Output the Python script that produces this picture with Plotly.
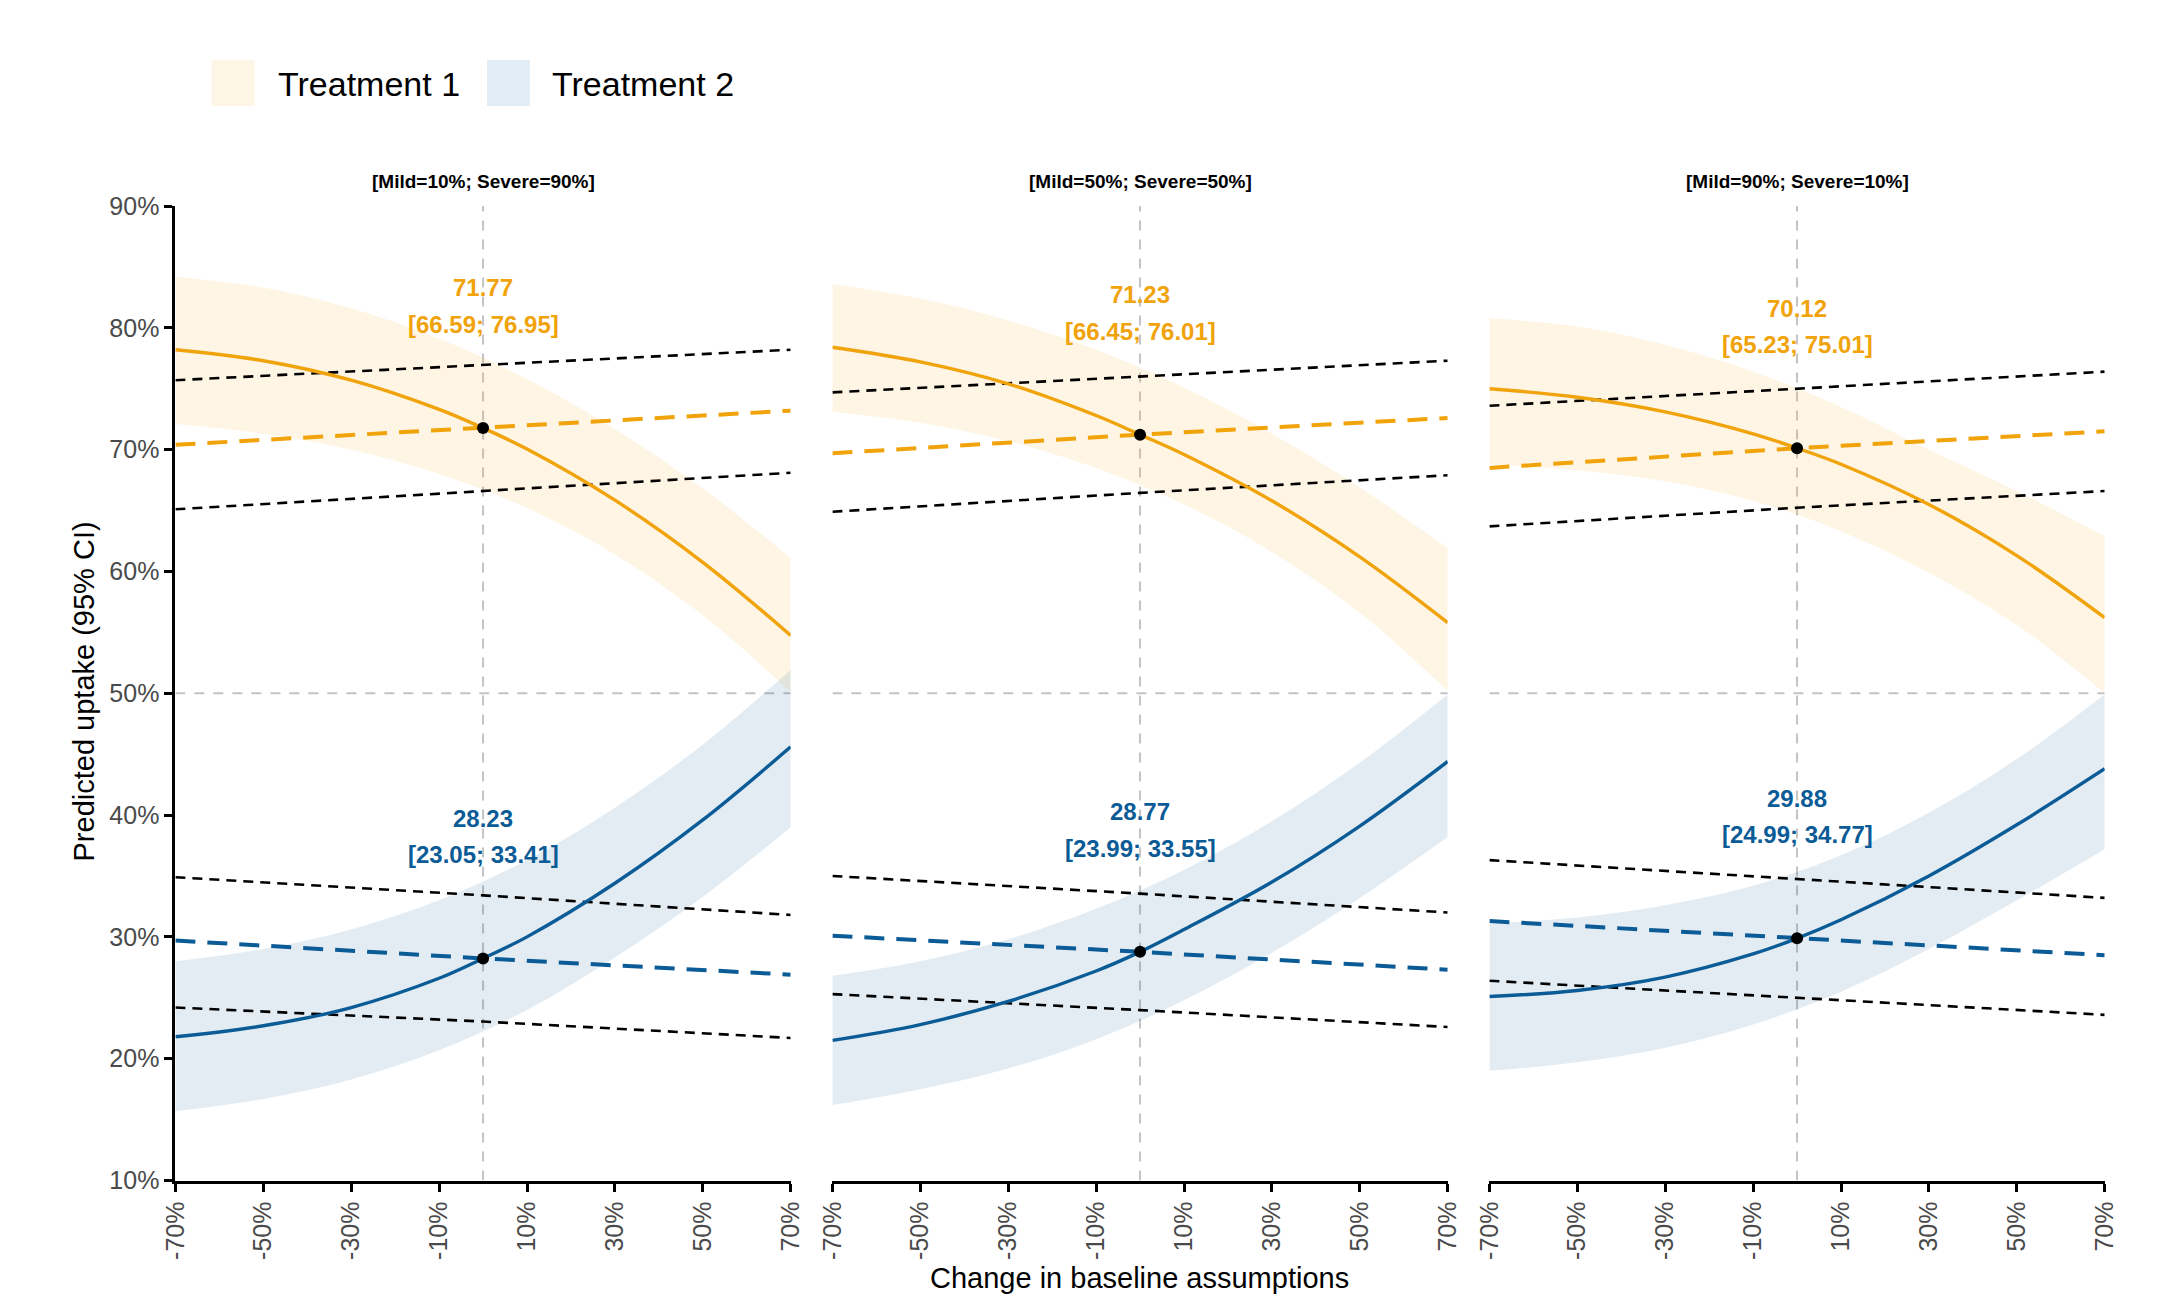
import plotly.graph_objects as go

# ---------------- data ----------------
curve_x = [-70, -50, -30, -10, 0, 10, 30, 50, 70]     # x for the estimate curves
band_x = [-70, -50, -30, -10, 10, 30, 50, 70]         # x for the CI bands
base_x = [-70, 0, 70]                                 # x for the baseline lines
panel_titles = ["[Mild=10%; Severe=90%]", "[Mild=50%; Severe=50%]", "[Mild=90%; Severe=10%]"]
series_names = ["Treatment 1", "Treatment 2"]
x_tickvals = [-70, -50, -30, -10, 10, 30, 50, 70]
x_ticktext = ["-70%", "-50%", "-30%", "-10%", "10%", "30%", "50%", "70%"]
y_tickvals = [10, 20, 30, 40, 50, 60, 70, 80, 90]
y_ticktext = ["10%", "20%", "30%", "40%", "50%", "60%", "70%", "80%", "90%"]

# Panel 1 [Mild=10%; Severe=90%]
p1_t1_est = [78.2, 77.3, 75.7, 73.3, 71.77, 70.05, 65.85, 60.75, 54.75]
p1_t1_hi = [84.2, 83.3, 81.6, 79.1, 75.8, 71.7, 66.8, 61.1]
p1_t1_lo = [72.1, 71.3, 70.0, 68.0, 65.2, 61.4, 56.4, 50.1]
p1_t1_base = [70.4, 71.77, 73.2]
p1_t1_base_lo = [65.1, 66.59, 68.1]
p1_t1_base_hi = [75.7, 76.95, 78.2]
p1_t2_est = [21.8, 22.7, 24.2, 26.6, 28.23, 30.0, 34.4, 39.6, 45.6]
p1_t2_hi = [28.0, 29.0, 30.6, 33.0, 36.3, 40.6, 45.8, 51.9]
p1_t2_lo = [15.7, 16.7, 18.3, 20.7, 24.0, 28.3, 33.3, 39.0]
p1_t2_base = [29.7, 28.23, 26.9]
p1_t2_base_lo = [24.2, 23.05, 21.7]
p1_t2_base_hi = [34.9, 33.41, 31.8]

# Panel 2 [Mild=50%; Severe=50%]
p2_t1_est = [78.4, 77.2, 75.4, 72.8, 71.23, 69.6, 65.8, 61.2, 55.8]
p2_t1_hi = [83.6, 82.4, 80.6, 78.2, 75.1, 71.3, 66.9, 61.9]
p2_t1_lo = [73.1, 72.2, 70.7, 68.5, 65.5, 61.6, 56.6, 50.2]
p2_t1_base = [69.7, 71.23, 72.6]
p2_t1_base_lo = [64.9, 66.45, 67.9]
p2_t1_base_hi = [74.7, 76.01, 77.3]
p2_t2_est = [21.5, 22.8, 24.7, 27.2, 28.77, 30.6, 34.5, 39.1, 44.4]
p2_t2_hi = [26.8, 28.0, 29.8, 32.3, 35.5, 39.5, 44.3, 49.9]
p2_t2_lo = [16.2, 17.5, 19.2, 21.6, 24.8, 28.7, 33.2, 38.2]
p2_t2_base = [30.1, 28.77, 27.3]
p2_t2_base_lo = [25.3, 23.99, 22.6]
p2_t2_base_hi = [35.0, 33.55, 32.0]

# Panel 3 [Mild=90%; Severe=10%]
p3_t1_est = [75.0, 74.3, 73.1, 71.3, 70.12, 68.8, 65.5, 61.3, 56.2]
p3_t1_hi = [80.8, 80.1, 78.6, 76.4, 73.5, 70.0, 66.6, 62.9]
p3_t1_lo = [68.8, 68.3, 67.4, 65.8, 63.3, 59.9, 55.6, 50.0]
p3_t1_base = [68.5, 70.12, 71.5]
p3_t1_base_lo = [63.7, 65.23, 66.6]
p3_t1_base_hi = [73.6, 75.01, 76.4]
p3_t2_est = [25.1, 25.6, 26.7, 28.6, 29.88, 31.4, 35.0, 39.2, 43.8]
p3_t2_hi = [31.1, 31.6, 32.6, 34.2, 36.7, 40.2, 44.6, 49.9]
p3_t2_lo = [19.0, 19.7, 20.9, 22.8, 25.5, 29.0, 33.0, 37.2]
p3_t2_base = [31.3, 29.88, 28.5]
p3_t2_base_lo = [26.4, 24.99, 23.6]
p3_t2_base_hi = [36.3, 34.77, 33.2]

panels = [
    dict(t1=(p1_t1_est, p1_t1_lo, p1_t1_hi, p1_t1_base, p1_t1_base_lo, p1_t1_base_hi),
         t2=(p1_t2_est, p1_t2_lo, p1_t2_hi, p1_t2_base, p1_t2_base_lo, p1_t2_base_hi)),
    dict(t1=(p2_t1_est, p2_t1_lo, p2_t1_hi, p2_t1_base, p2_t1_base_lo, p2_t1_base_hi),
         t2=(p2_t2_est, p2_t2_lo, p2_t2_hi, p2_t2_base, p2_t2_base_lo, p2_t2_base_hi)),
    dict(t1=(p3_t1_est, p3_t1_lo, p3_t1_hi, p3_t1_base, p3_t1_base_lo, p3_t1_base_hi),
         t2=(p3_t2_est, p3_t2_lo, p3_t2_hi, p3_t2_base, p3_t2_base_lo, p3_t2_base_hi)),
]

# ---------------- styling ----------------
W, H = 2183, 1299
FONT = "Liberation Sans, Arial, sans-serif"
ORANGE = "#F0A30A"
BLUE = "#0B5B96"
ORANGE_BAND = "rgba(246,170,30,0.12)"
BLUE_BAND = "rgba(10,90,150,0.115)"
ORANGE_SWATCH = "#FDF5E5"
BLUE_SWATCH = "#E2EDF5"
colors = {"t1": (ORANGE, ORANGE_BAND), "t2": (BLUE, BLUE_BAND)}

x_domains = [(175.4 / W, 790.7 / W), (832.4 / W, 1447.7 / W), (1489.4 / W, 2104.7 / W)]
y_domain = (1 - 1180.5 / H, 1 - 206 / H)

fig = go.Figure()

for i, pan in enumerate(panels):
    xa = "x" if i == 0 else f"x{i+1}"
    ya = "y" if i == 0 else f"y{i+1}"
    for key in ["t1", "t2"]:
        est, lo, hi, base, base_lo, base_hi = pan[key]
        line_col, band_col = colors[key]
        # CI band of the curve
        fig.add_trace(go.Scatter(x=band_x, y=lo, mode="lines", line=dict(width=0, shape="spline"),
                                 xaxis=xa, yaxis=ya, showlegend=False, hoverinfo="skip"))
        fig.add_trace(go.Scatter(x=band_x, y=hi, mode="lines", line=dict(width=0, shape="spline"),
                                 fill="tonexty", fillcolor=band_col,
                                 xaxis=xa, yaxis=ya, showlegend=False, hoverinfo="skip"))
    for key in ["t1", "t2"]:
        est, lo, hi, base, base_lo, base_hi = pan[key]
        line_col, band_col = colors[key]
        # baseline CI lines (black short dashes)
        for yy in (base_lo, base_hi):
            fig.add_trace(go.Scatter(x=base_x, y=yy, mode="lines",
                                     line=dict(color="black", width=2.6, dash="10px,7px"),
                                     xaxis=xa, yaxis=ya, showlegend=False))
        # baseline dashed coloured line
        fig.add_trace(go.Scatter(x=base_x, y=base, mode="lines",
                                 line=dict(color=line_col, width=4, dash="20px,12px"),
                                 xaxis=xa, yaxis=ya, showlegend=False))
        # solid curve
        fig.add_trace(go.Scatter(x=curve_x, y=est, mode="lines",
                                 line=dict(color=line_col, width=3.4, shape="spline"),
                                 xaxis=xa, yaxis=ya, showlegend=False))
    # baseline points
    for key in ["t1", "t2"]:
        base = pan[key][3]
        fig.add_trace(go.Scatter(x=[base_x[1]], y=[base[1]], mode="markers",
                                 marker=dict(color="black", size=12),
                                 xaxis=xa, yaxis=ya, showlegend=False))
    # value labels
    for key in ["t1", "t2"]:
        est, lo, hi, base, base_lo, base_hi = pan[key]
        line_col = colors[key][0]
        fig.add_annotation(x=0, y=base[1] + 11.5, xref=xa, yref=ya, text=f"<b>{base[1]:.2f}</b>",
                           showarrow=False, font=dict(family=FONT, size=24, color=line_col),
                           xanchor="center", yanchor="middle")
        fig.add_annotation(x=0, y=base[1] + 8.5, xref=xa, yref=ya,
                           text=f"<b>[{base_lo[1]:.2f}; {base_hi[1]:.2f}]</b>",
                           showarrow=False, font=dict(family=FONT, size=24, color=line_col),
                           xanchor="center", yanchor="middle")
    # reference lines
    fig.add_shape(type="line", x0=0, x1=0, y0=10, y1=90, xref=xa, yref=ya, layer="below",
                  line=dict(color="#c4c4c4", width=2, dash="10px,9px"))
    fig.add_shape(type="line", x0=-70, x1=70, y0=50, y1=50, xref=xa, yref=ya, layer="below",
                  line=dict(color="#c4c4c4", width=2, dash="10px,9px"))
    # panel title
    cx = (x_domains[i][0] + x_domains[i][1]) / 2
    fig.add_annotation(x=cx, y=1 - 182 / H, xref="paper", yref="paper", text=f"<b>{panel_titles[i]}</b>",
                       showarrow=False, font=dict(family=FONT, size=19, color="black"),
                       xanchor="center", yanchor="middle")

axis_common = dict(showgrid=False, zeroline=False, automargin=False)
layout_axes = {}
for i in range(3):
    xk = "xaxis" if i == 0 else f"xaxis{i+1}"
    yk = "yaxis" if i == 0 else f"yaxis{i+1}"
    ya = "y" if i == 0 else f"y{i+1}"
    xa = "x" if i == 0 else f"x{i+1}"
    layout_axes[xk] = dict(domain=list(x_domains[i]), anchor=ya, range=[-70, 70],
                           tickvals=x_tickvals, ticktext=x_ticktext, tickangle=-90,
                           showline=True, linecolor="black", linewidth=3,
                           ticks="outside", ticklen=8, tickwidth=2.5, tickcolor="black",
                           tickfont=dict(family=FONT, size=25, color="#4a4a4a"), **axis_common)
    if i == 0:
        layout_axes[yk] = dict(domain=list(y_domain), anchor=xa, range=[10, 90],
                               tickvals=y_tickvals, ticktext=y_ticktext,
                               showline=True, linecolor="black", linewidth=3,
                               ticks="outside", ticklen=8, tickwidth=2.5, tickcolor="black",
                               tickfont=dict(family=FONT, size=25, color="#4a4a4a"), **axis_common)
    else:
        layout_axes[yk] = dict(domain=list(y_domain), anchor=xa, range=[10, 90],
                               showline=False, showticklabels=False, ticks="", **axis_common)

fig.update_layout(width=W, height=H, margin=dict(l=0, r=0, t=0, b=0),
                  paper_bgcolor="white", plot_bgcolor="rgba(0,0,0,0)", showlegend=False,
                  font=dict(family=FONT), **layout_axes)

# axis titles
fig.add_annotation(x=1139 / W, y=1 - 1278 / H, xref="paper", yref="paper",
                   text="Change in baseline assumptions", showarrow=False,
                   font=dict(family=FONT, size=29, color="black"), xanchor="center", yanchor="middle")
fig.add_annotation(x=83.5 / W, y=1 - 692 / H, xref="paper", yref="paper",
                   text="Predicted uptake (95% CI)", showarrow=False, textangle=-90,
                   font=dict(family=FONT, size=29, color="black"), xanchor="center", yanchor="middle")

# legend (manual)
legend_items = [(series_names[0], ORANGE_SWATCH, 211.6, 275.6), (series_names[1], BLUE_SWATCH, 487.0, 550.0)]
for name, sw, sx, tx in legend_items:
    fig.add_shape(type="rect", xref="paper", yref="paper",
                  x0=sx / W, x1=(sx + 43) / W, y0=1 - 106 / H, y1=1 - 60 / H,
                  fillcolor=sw, line=dict(width=0))
    fig.add_annotation(x=tx / W, y=1 - 84 / H, xref="paper", yref="paper", text=name,
                       showarrow=False, font=dict(family=FONT, size=34, color="black"),
                       xanchor="left", yanchor="middle")

fig.write_html("out.html", config={"displayModeBar": False},
               post_script="document.body.style.margin='0';document.body.style.overflow='hidden';")
